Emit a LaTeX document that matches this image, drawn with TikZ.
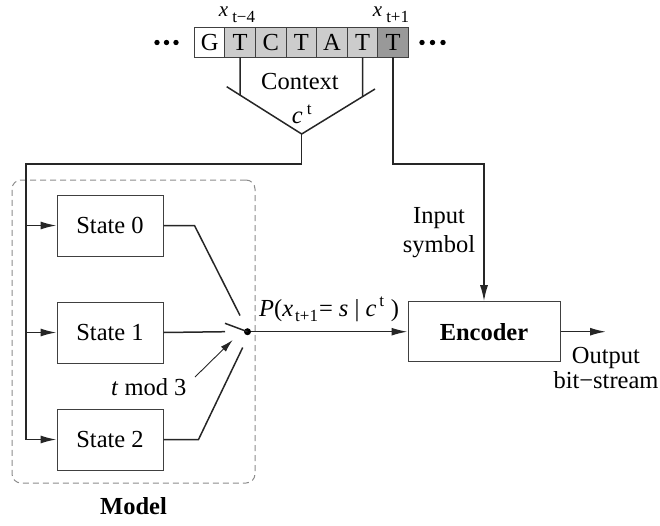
\documentclass[tikz,border=0pt]{standalone}
\usepackage{fontspec}
\setmainfont{Liberation Serif}
\usetikzlibrary{arrows.meta,positioning}
\definecolor{cellgray}{gray}{0.8}
\definecolor{lastgray}{gray}{0.6}
\tikzset{
  wire/.style={line width=1.5pt, draw=black!85},
  flow/.style={wire, -{Latex[length=16pt,width=8pt]}},
  ptr/.style={line width=0.9pt, draw=black!85, -{Latex[length=13pt,width=7pt]}},
  cell/.style={draw=black!75, line width=1pt, minimum width=30.6pt,
    minimum height=29.6pt, inner sep=0pt, outer sep=0pt},
  statebox/.style={draw=black!75, line width=1pt, minimum width=106pt,
    minimum height=61pt},
  lbl/.style={inner sep=0pt}
}
\begin{document}
\begin{tikzpicture}[x=1pt,y=-1pt,font=\fontsize{24.5}{29}\selectfont]
\useasboundingbox (0,0) rectangle (660,525);

% Sequence
\foreach \b/\f [count=\i] in {G/white,T/cellgray,C/cellgray,T/cellgray,A/cellgray,T/cellgray,T/lastgray}
  \node[cell, fill=\f] (c\i) at (179+30.6*\i, 42.5) {\b};
\foreach \x in {157,166.5,176,422,432.5,443}
  \fill (\x,42.5) circle (2.7);
\node[lbl, anchor=base] (xold) at (237,16)
  {\fontsize{21}{24}\selectfont\textit{x}\hspace{4pt}\raisebox{-6pt}{\fontsize{17}{20}\selectfont t−4}};
\node[lbl, anchor=base] (xnew) at (391,16)
  {\fontsize{21}{24}\selectfont\textit{x}\hspace{4pt}\raisebox{-6pt}{\fontsize{17}{20}\selectfont t+1}};

% Context funnel
\coordinate (vl) at (226.7,86.7);
\coordinate (apex) at (301.7,134);
\coordinate (vr) at (375,89);
\coordinate (c2low) at (c2.south |- apex);
\coordinate (c6low) at (c6.south |- apex);
\draw[wire] (vl) -- (apex) -- (vr);
\draw[wire] (c2.south) -- (intersection of c2.south--c2low and vl--apex);
\draw[wire] (c6.south) -- (intersection of c6.south--c6low and vr--apex);
\node (ctx) at (300,82) {Context};
\node (cdt) at (302,114) {\textit{c}\,\textsuperscript{t}};

% Model
\node[draw=black!45, line width=1pt, dash pattern=on 6pt off 4pt,
  rounded corners=9pt, minimum width=243pt, minimum height=303pt]
  (model) at (133.5,331.5) {};
\node[below=10pt of model] (modellbl) {\bfseries Model};
\node[statebox] (s0) at (110,225.5) {State 0};
\node[statebox, below=45pt of s0] (s1) {State 1};
\node[statebox, below=45pt of s1] (s2) {State 2};

\coordinate (split) at (26,164);
\draw[wire] (apex) |- (split) -- (split |- s2);
\foreach \s in {s0,s1,s2}
  \draw[flow] (split |- \s) -- (\s);

% Switch
\node[circle, fill=black, inner sep=0pt, minimum size=7pt] (pivot) at (247.5,331.7) {};
\coordinate (blade) at (225,323.3);
\coordinate (k0) at (240,315.5);
\coordinate (k1) at (225,331.7);
\coordinate (k2) at (242.7,347.5);
\draw[wire] (pivot.center) -- (blade);
\draw[wire] (s0.east) -- ++(31,0) -- (k0);
\draw[wire] (s1.east) -- (k1);
\draw[wire] (s2.east) -- ++(35,0) -- (k2);
\node[anchor=base east] (tmod) at (190,395) {\textit{t} mod 3};
\coordinate (sel) at (232.7,340);
\draw[ptr] ([shift={(5,-18)}]tmod.base east) -- (sel);

% Encoder
\node[statebox, minimum width=152pt, minimum height=60pt] (enc) at (484,331.7)
  {\bfseries Encoder};
\draw[flow] (pivot) -- (enc);
\node[lbl, anchor=base west] (prob) at (259,316)
  {\textit{P}(\textit{x}\hspace{2pt}\raisebox{-5pt}{\fontsize{17}{20}\selectfont t+1}\hspace{1pt}= \textit{s} | \textit{c}\textsuperscript{\,t} )};
\draw[flow] (c7.south) |- (enc.north |- split) -- (enc.north);
\node[align=center] (inlbl) at (439,233) {Input\\[0pt]symbol};
\coordinate (out) at (606,331.7);
\draw[flow] (enc) -- (out);
\node[align=center] (outlbl) at (606,368) {Output\\[-4pt]bit−stream};

\end{tikzpicture}
\end{document}
